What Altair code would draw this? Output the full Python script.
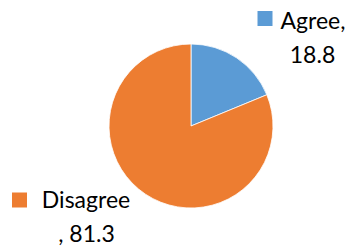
import altair as alt
import pandas as pd

categories = ["Agree", "Disagree"]
values = [18.8, 81.3]
colors = ["#5B9BD5", "#ED7D31"]

df = pd.DataFrame({"category": categories, "value": values, "order": list(range(len(categories)))})
df["line1"] = [f"{categories[0]},", categories[1]]
df["line2"] = [f"{values[0]}", f", {values[1]}"]

color_scale = alt.Scale(domain=categories, range=colors)
FONT = "Lato"
FS = 23

base = alt.Chart(df)

pie = base.mark_arc(stroke="white", strokeWidth=0.8).encode(
    theta=alt.Theta("value:Q", stack=True),
    order=alt.Order("order:Q"),
    color=alt.Color("category:N", scale=color_scale, legend=None),
    x=alt.value(183), y=alt.value(118), radius=alt.value(82),
)

# label placements (pixel layout, per category)
layout = {
    "Agree": dict(sq=(257, 10.5), l1=(305, 21), l2=(304.5, 55)),
    "Disagree": dict(sq=(11.5, 192), l1=(78, 200), l2=(78.5, 234)),
}

layers = [pie]
for cat in categories:
    p = layout[cat]
    sub = base.transform_filter(alt.datum.category == cat)
    layers.append(sub.mark_square(size=225, opacity=1).encode(
        x=alt.value(p["sq"][0]), y=alt.value(p["sq"][1]),
        color=alt.Color("category:N", scale=color_scale, legend=None)))
    layers.append(sub.mark_text(font=FONT, fontSize=FS, align="center", baseline="alphabetic", color="#000").encode(
        x=alt.value(p["l1"][0]), y=alt.value(p["l1"][1]), text="line1:N"))
    layers.append(sub.mark_text(font=FONT, fontSize=FS, align="center", baseline="alphabetic", color="#000").encode(
        x=alt.value(p["l2"][0]), y=alt.value(p["l2"][1]), text="line2:N"))

chart = alt.layer(*layers).properties(
    width=340, height=240, autosize=alt.AutoSizeParams(type="none"), padding=0
).configure_view(stroke=None)

chart.save("out.html", embed_options={"renderer": "svg", "actions": False})
